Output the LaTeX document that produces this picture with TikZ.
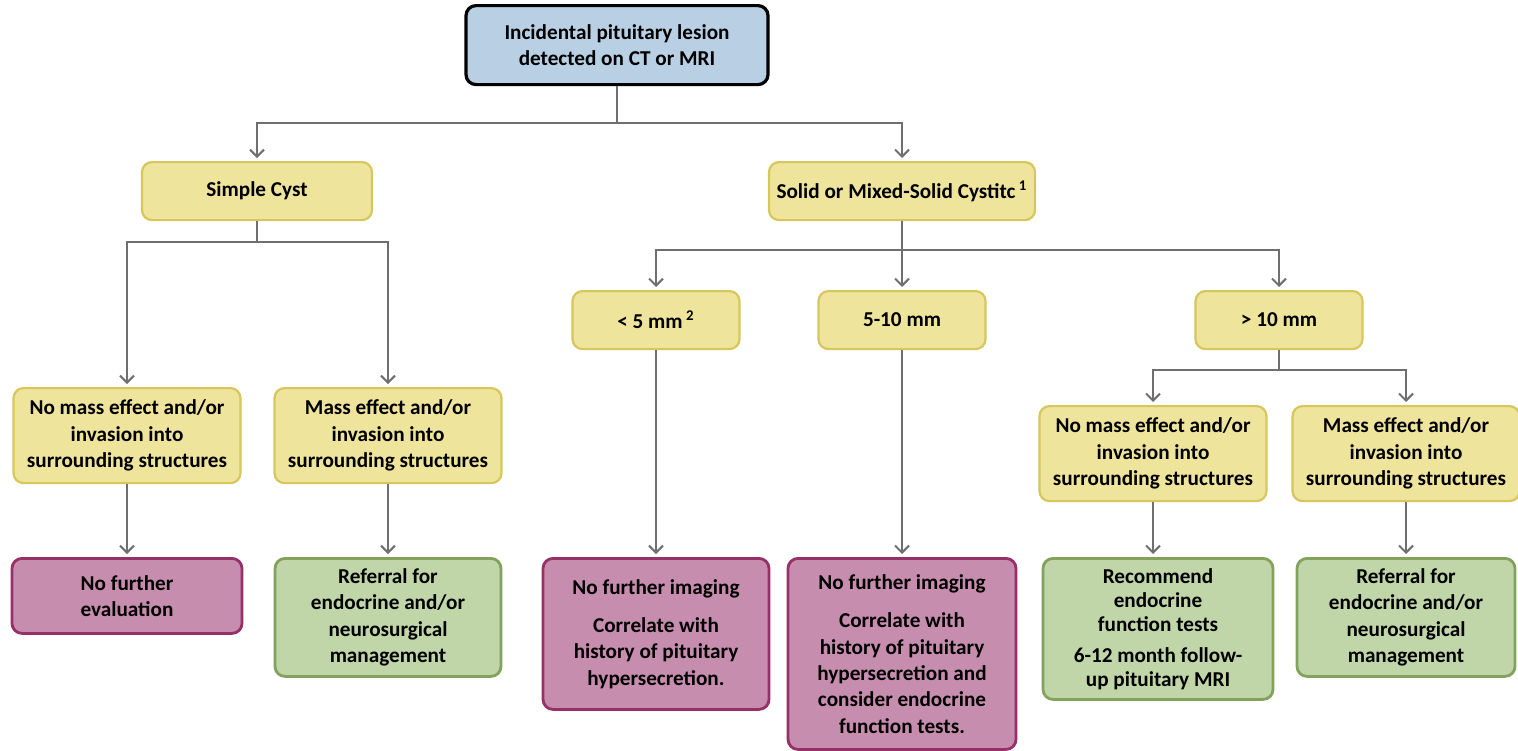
\documentclass[tikz,border=0pt]{standalone}
\usepackage{fontspec}
\setmainfont{Carlito}
\usepackage{tikz}
\usetikzlibrary{arrows.meta,shapes}
\definecolor{boxblue}{HTML}{B8CFE4}
\definecolor{boxyellow}{HTML}{EFE49B}
\definecolor{rimyellow}{HTML}{D7C65C}
\definecolor{boxpink}{HTML}{C78DAF}
\definecolor{rimpink}{HTML}{983068}
\definecolor{boxgreen}{HTML}{C0D5A8}
\definecolor{rimgreen}{HTML}{82A25E}
\definecolor{linegray}{HTML}{6F6F6F}
\tikzstyle{box}=[rectangle,rounded corners=5pt,align=center,anchor=north,inner sep=1pt,
  font=\fontsize{10.6}{13.2}\selectfont\bfseries]
\tikzstyle{startbox}=[box,fill=boxblue,draw=black,line width=1.6pt]
\tikzstyle{choice}=[box,fill=boxyellow,draw=rimyellow,line width=1.1pt]
\tikzstyle{stopbox}=[box,fill=boxpink,draw=rimpink,line width=1.4pt]
\tikzstyle{gobox}=[box,fill=boxgreen,draw=rimgreen,line width=1.4pt]
\tikzstyle{link}=[draw=linegray,line width=1.1pt]
\tikzstyle{arr}=[link,-{Straight Barb[length=3.5pt,width=7pt,line width=1pt]},shorten >=1.5pt]

\begin{document}
\begin{tikzpicture}[x=0.5pt,y=-0.5pt]
    \useasboundingbox (0,0) rectangle (1518,750);

    % first two levels
    \node[startbox,minimum width=151pt,minimum height=39.5pt] (lesion) at (617,4)
        {Incidental pituitary lesion\\detected on CT or MRI};
    \node[choice,minimum width=115pt,minimum height=29pt] (cyst) at (257,161) {Simple Cyst};
    \node[choice,minimum width=133pt,minimum height=29pt] (solid) at (902,161)
        {Solid or Mixed-Solid Cystitc\,\textsuperscript{1}};

    % size classes
    \foreach \pos/\name/\txt in {{(656,290)/small/{< 5 mm\,\textsuperscript{2}}},
        {(902,290)/medium/5-10 mm},{(1279,290)/large/> 10 mm}}
        \node[choice,minimum width=83.5pt,minimum height=29pt] (\name) at \pos {\txt};

    % mass effect boxes
    \foreach \pos/\name/\txt in {{(127,387)/cystno/{No mass effect and/or}},
        {(388,387)/cystyes/{Mass effect and/or}},
        {(1153,405)/largeno/{No mass effect and/or}},
        {(1406,405)/largeyes/{Mass effect and/or}}}
        \node[choice,minimum width=113.5pt,minimum height=47.5pt] (\name) at \pos
            {\txt\\invasion into\\surrounding structures};

    % outcomes
    \node[stopbox,minimum width=115pt,minimum height=37.5pt] (noeval) at (127,557)
        {No further\\evaluation};
    \node[gobox,minimum width=113pt,minimum height=59pt] (refer) at (388,557)
        {Referral for\\endocrine and/or\\neurosurgical\\management};
    \node[stopbox,minimum width=113pt,minimum height=75.5pt] (noimgsmall) at (656,557)
        {No further imaging\\[6pt]Correlate with\\history of pituitary\\hypersecretion.};
    \node[stopbox,minimum width=114pt,minimum height=95.5pt] (noimgmed) at (902,557)
        {No further imaging\\[6pt]Correlate with\\history of pituitary\\hypersecretion and\\consider endocrine\\function tests.};
    \node[gobox,minimum width=115pt,minimum height=70.5pt,
        font=\fontsize{10.6}{12}\selectfont\bfseries] (recommend) at (1158,557)
        {Recommend\\endocrine\\function tests\\[3.5pt]6-12 month follow-\\up pituitary MRI};
    \node[gobox,minimum width=109pt,minimum height=59pt] (referlarge) at (1406,557)
        {Referral for\\endocrine and/or\\neurosurgical\\management};

    % junctions
    \coordinate (j0) at (617,123);
    \coordinate (j1) at (257,242);
    \coordinate (j2) at (902,250);
    \coordinate (j3) at (1279,370);

    \path[link] (lesion) -- (j0);
    \path[link] (cyst) -- (j1);
    \path[link] (solid) -- (j2);
    \path[link] (large) -- (j3);

    \foreach \source/\dest in {j0/cyst,j0/solid,j1/cystno,j1/cystyes,
        j2/small,j2/medium,j2/large,j3/largeno,j3/largeyes}
        \path[arr] (\source) -| (\dest.north);

    \foreach \source/\dest in {cystno/noeval,cystyes/refer,small/noimgsmall,
        medium/noimgmed,largeno/recommend,largeyes/referlarge}
        \path[arr] (\source.south) -- (\source.south |- \dest.north);
\end{tikzpicture}
\end{document}
